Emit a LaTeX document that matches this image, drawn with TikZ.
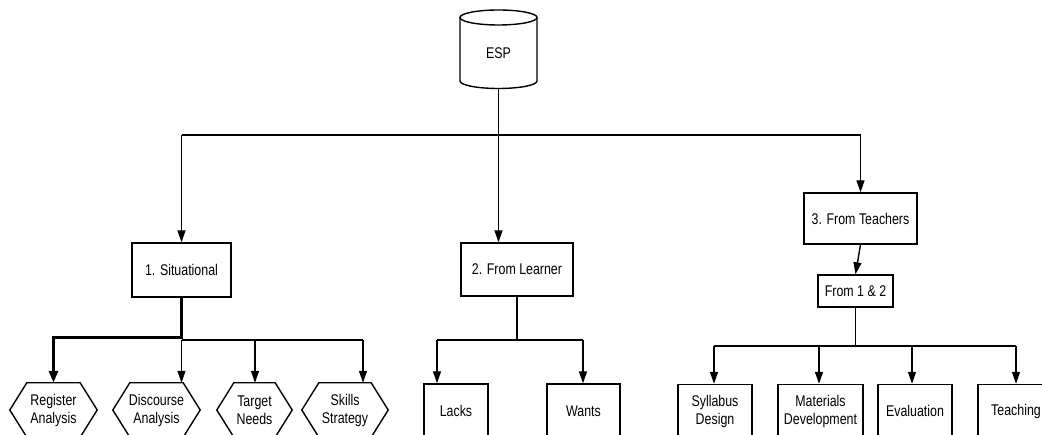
\documentclass[tikz,border=0pt]{standalone}
\usepackage{fontspec}
\setmainfont[FakeStretch=0.8]{Liberation Sans}
\usetikzlibrary{arrows.meta}
\begin{document}
\begin{tikzpicture}[x=1pt,y=1pt,
  every node/.style={font=\fontsize{15.5}{18}\selectfont, align=center, inner sep=0pt},
  box/.style={draw, line width=1.4pt},
  conn/.style={line width=1.4pt},
  arr/.style={conn, -{Triangle[length=12pt,width=8pt]}},
  thickconn/.style={line width=3pt, -{Triangle[length=12pt,width=9pt]}},
  hexline/.style={line width=1.4pt, line join=miter}
]
\useasboundingbox (0,0) rectangle (1042,435);
\clip (0,0) rectangle (1042,435);

% ESP cylinder
\node[minimum width=77pt, minimum height=71pt] (esp) at (498.5,382) {ESP};
\draw[hexline] (498.5,417.5) ellipse [x radius=38.5, y radius=7.5];
\draw[hexline] (460,417.5) -- (460,354) arc[start angle=180, end angle=360, x radius=38.5, y radius=7.5] -- (537,417.5);

% level 1
\node[box, minimum width=99pt, minimum height=54pt] (sit) at (181.5,165) {1. Situational};
\node[box, minimum width=112pt, minimum height=53pt] (learn) at (517,165.5) {2. From Learner};
\node[box, minimum width=113pt, minimum height=51pt] (teach) at (860.5,216.5) {3. From Teachers};
\node[box, minimum width=75pt, minimum height=32pt] (f12) at (855.5,144) {From 1 \& 2};

% hexagons
\foreach \n/\x/\w/\t in {reg/53.5/87/{Register\\Analysis}, disc/156.5/87/{Discourse\\Analysis}, targ/254.5/75/{Target\\Needs}, skill/345/86/{Skills\\Strategy}} {
  \node[minimum width=\w pt, minimum height=54pt] (\n) at (\x,25) {\t};
  \draw[hexline] (\n.west) -- ([xshift=17pt]\n.north west) -- ([xshift=-17pt]\n.north east) -- (\n.east) -- ([xshift=-17pt]\n.south east) -- ([xshift=17pt]\n.south west) -- cycle;
}

% learner children
\node[box, minimum width=64pt, minimum height=54pt] (lacks) at (456,24) {Lacks};
\node[box, minimum width=73pt, minimum height=54pt] (wants) at (583.5,24) {Wants};

% teacher children
\node[box, minimum width=74pt, minimum height=53pt] (syl) at (715,24) {Syllabus\\Design};
\node[box, minimum width=85pt, minimum height=53pt] (mat) at (820.5,24) {Materials\\Development};
\node[box, minimum width=74pt, minimum height=53pt] (eval) at (915,24) {Evaluation};
\node[box, minimum width=76pt, minimum height=53pt] (tch) at (1016,24) {Teaching};

% top connectors
\coordinate (jL) at (181.5,300);
\coordinate (jR) at (860.5,300);
\draw[conn] (jL) -- (jR);
\draw[arr] (esp.south) -- (esp.south |- learn.north);
\draw[arr] (jL) -- (sit.north);
\draw[arr] (jR) -- (teach.north);
\draw[arr] (teach.south) -- (f12.north);

% situational connectors
\coordinate (sa) at (181.5,97);
\coordinate (sj) at (181.5,95);
\coordinate (sk) at (255,95);
\coordinate (sl) at (363,95);
\draw[thickconn] (sit.south) -- (sa) -| (reg.north);
\draw[conn] (sj) -- (sl);
\draw[arr] (sj) -- (sj |- disc.north);
\draw[arr] (sk) -- (sk |- targ.north);
\draw[arr] (sl) -- (sl |- skill.north);

% learner connectors
\coordinate (lj) at (517,95);
\coordinate (la) at (437,95);
\coordinate (lb) at (583,95);
\draw[conn] (learn.south) -- (lj);
\draw[conn] (la) -- (lb);
\draw[arr] (la) -- (la |- lacks.north);
\draw[arr] (lb) -- (lb |- wants.north);

% teacher connectors
\coordinate (tj) at (855.5,89);
\coordinate (ta) at (714,89);
\coordinate (tb) at (819,89);
\coordinate (tc) at (912,89);
\coordinate (td) at (1016,89);
\draw[conn] (f12.south) -- (tj);
\draw[conn] (ta) -- (td);
\draw[arr] (ta) -- (ta |- syl.north);
\draw[arr] (tb) -- (tb |- mat.north);
\draw[arr] (tc) -- (tc |- eval.north);
\draw[arr] (td) -- (td |- tch.north);
\end{tikzpicture}
\end{document}
